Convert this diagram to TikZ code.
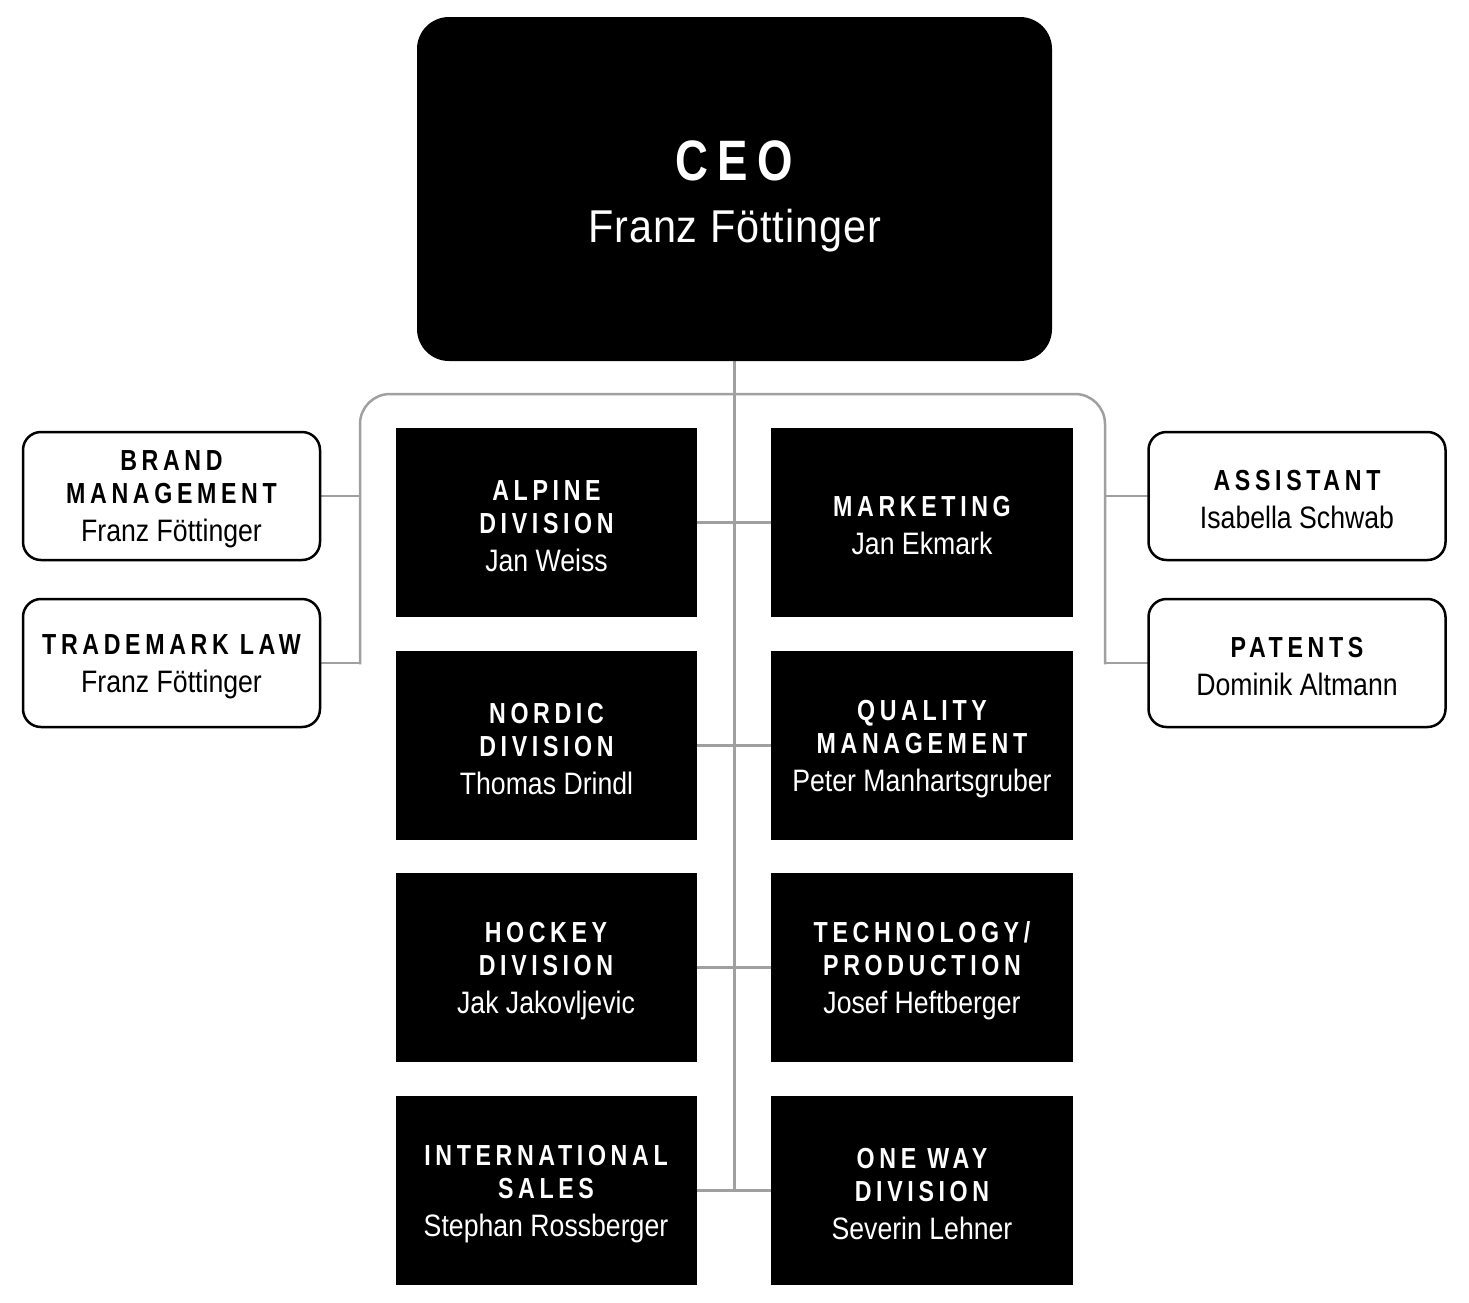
\documentclass[tikz,border=0pt]{standalone}
\usepackage{fontspec}
\setmainfont{Liberation Sans}
\newfontfamily\titlef{Liberation Sans}[FakeStretch=0.8,LetterSpace=16]
\newfontfamily\namef{Liberation Sans}[FakeStretch=0.86]
\newfontfamily\ceonamef{Liberation Sans}[FakeStretch=0.9,LetterSpace=2]
\definecolor{connc}{HTML}{A0A0A0}
\pgfdeclarelayer{bg}
\pgfsetlayers{bg,main}
\newcommand\nm[1]{{\namef\mdseries\fontsize{31}{33}\selectfont #1}}
\newcommand\lift{\rule{0pt}{27pt}}
\tikzset{
  blk/.style={fill=black, text=white, minimum width=301pt, minimum height=189pt,
    inner sep=0pt, align=center, font=\titlef\bfseries\fontsize{29}{33}\selectfont},
  wbox/.style={draw=black, line width=2.5pt, rounded corners=18pt, fill=white,
    minimum width=297pt, minimum height=128pt, inner sep=0pt, align=center,
    font=\titlef\bfseries\fontsize{29}{33}\selectfont},
  ceobox/.style={fill=black, text=white, rounded corners=32pt, minimum width=635pt,
    minimum height=344pt, inner sep=0pt, align=center,
    font=\titlef\bfseries\fontsize{57}{62}\selectfont},
  conn/.style={draw=connc, line width=2.5pt, line cap=rect},
}
\begin{document}
\begin{tikzpicture}[x=1pt,y=-1pt]
\useasboundingbox (0,0) rectangle (1469,1302);
% CEO
\node[ceobox] (ceo) at (734.5,189) {\rule{0pt}{55pt}CEO\\{\ceonamef\mdseries\fontsize{46}{62}\selectfont Franz Föttinger}};
% staff boxes
\node[wbox] (bm) at (171.5,496) {\lift BRAND\\MANAGEMENT\\[5pt]\nm{Franz Föttinger}};
\node[wbox] (tm) at (171.5,663) {\lift TRADEMARK LAW\\[5pt]\nm{Franz Föttinger}};
\node[wbox] (as) at (1297,496) {\lift ASSISTANT\\[5pt]\nm{Isabella Schwab}};
\node[wbox] (pa) at (1297,663) {\lift PATENTS\\[5pt]\nm{Dominik Altmann}};
% divisions
\node[blk] (l1) at (546.5,522.5) {\lift ALPINE\\DIVISION\\[5pt]\nm{Jan Weiss}};
\node[blk] (l2) at (546.5,745.5) {\lift NORDIC\\DIVISION\\[5pt]\nm{Thomas Drindl}};
\node[blk] (l3) at (546,967.5) {\lift HOCKEY\\DIVISION\\[5pt]\nm{Jak Jakovljevic}};
\node[blk] (l4) at (546,1190.5) {\lift INTERNATIONAL\\SALES\\[5pt]\nm{Stephan Rossberger}};
\node[blk, minimum width=302pt] (r1) at (922,522.5) {\lift MARKETING\\[5pt]\nm{Jan Ekmark}};
\node[blk, minimum width=302pt] (r2) at (922,745.5) {\lift QUALITY\\MANAGEMENT\\[5pt]\nm{Peter Manhartsgruber}};
\node[blk, minimum width=302pt] (r3) at (922,967.5) {\lift TECHNOLOGY/\\PRODUCTION\\[5pt]\nm{Josef Heftberger}};
\node[blk, minimum width=302pt] (r4) at (922,1190.5) {\lift ONE WAY\\DIVISION\\[5pt]\nm{Severin Lehner}};
% junction coordinates
\coordinate (Ltop) at (360,394);
\coordinate (Rtop) at (1105,394);
\coordinate (Lbot) at (tm.east -| Ltop);
\coordinate (Rbot) at (pa.west -| Rtop);
\coordinate (Cbot) at (ceo.south |- l4.east);
\begin{pgfonlayer}{bg}
  \fill[white] (0,0) rectangle (1469,1302);
  \draw[conn, rounded corners=30pt] (Lbot) -- (Ltop) -- (Rtop) -- (Rbot);
  \draw[conn] (bm.east) -- (bm.east -| Ltop);
  \draw[conn] (tm.east) -- (Lbot);
  \draw[conn] (as.west) -- (as.west -| Rtop);
  \draw[conn] (pa.west) -- (Rbot);
  \draw[conn] (ceo.south) -- (Cbot);
  \draw[conn] (l1.east) -- (r1.west);
  \draw[conn] (l2.east) -- (r2.west);
  \draw[conn] (l3.east) -- (r3.west);
  \draw[conn] (l4.east) -- (r4.west);
\end{pgfonlayer}
\end{tikzpicture}
\end{document}
